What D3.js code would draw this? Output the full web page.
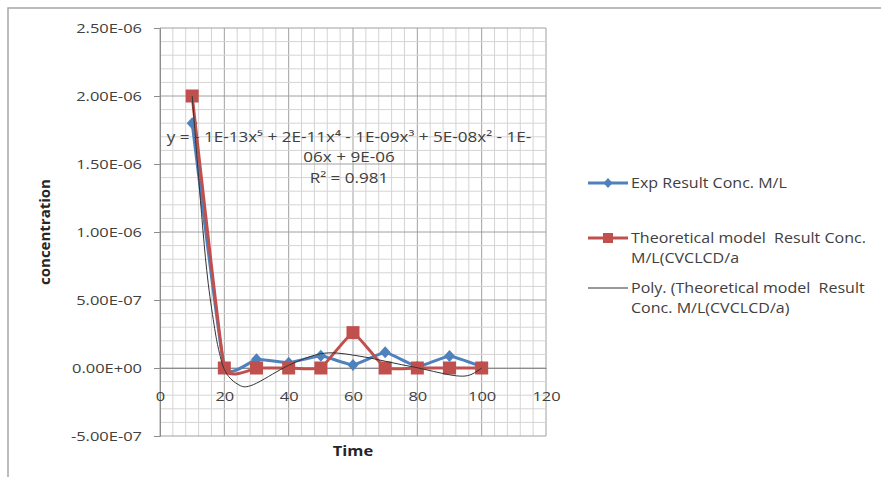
<!DOCTYPE html>
<html>
<head>
<meta charset="utf-8">
<script src="https://cdn.jsdelivr.net/npm/d3@7"></script>
<style>
  body { margin: 0; background: #fff; }
  text { font-family: "Open Sans", "Noto Sans", sans-serif; }
</style>
</head>
<body>
<div id="chart"></div>
<script>
// time values
const times = [10, 20, 30, 40, 50, 60, 70, 80, 90, 100];
// Exp Result Conc. M/L
const expConc = [1.8e-6, 0, 6.4e-8, 3.9e-8, 9.0e-8, 2.2e-8, 1.15e-7, 1.0e-8, 8.8e-8, 1.0e-8];
// Theoretical model Result Conc. M/L(CVCLCD/a
const theoConc = [2.0e-6, 0, 0, 0, 0, 2.6e-7, 0, 0, 0, 0];
// poly trendline
const polyX = [10, 12, 13.4, 15, 17, 18, 19, 20, 22, 25, 27, 30, 35, 40, 45, 50, 55, 60, 65, 70, 75, 80, 85, 90, 94, 97, 100];
const polyY = [2.0e-6, 1.4e-6, 1.0e-6, 6.2e-7, 2.9e-7, 1.6e-7, 6e-8, -1e-8, -8e-8, -1.3e-7, -1.37e-7, -1.12e-7, -4.5e-8, 2e-8, 7e-8, 1.05e-7, 1.1e-7, 9.5e-8, 7.5e-8, 5e-8, 2.5e-8, 2e-9, -2.5e-8, -5e-8, -6e-8, -4.5e-8, 0];

const yTicks = [-5e-7, 0, 5e-7, 1e-6, 1.5e-6, 2e-6, 2.5e-6];
const yTickLabels = ["-5.00E-07", "0.00E+00", "5.00E-07", "1.00E-06", "1.50E-06", "2.00E-06", "2.50E-06"];
const xTicks = [0, 20, 40, 60, 80, 100, 120];

const width = 881, height = 477;
const sx = 1.22; // the original picture is stretched sideways

const svg = d3.select("#chart").append("svg")
  .attr("width", width)
  .attr("height", height);

// chart border (cropped)
svg.append("path")
  .attr("d", `M8,${height} L8,8 L${width},8`)
  .attr("fill", "none")
  .attr("stroke", "#a6a6a6")
  .attr("stroke-width", 1.5);

const x = d3.scaleLinear().domain([0, 120]).range([160, 546]);
const y = d3.scaleLinear().domain([-5e-7, 2.5e-6]).range([436, 28]);

// grid
svg.append("g")
  .selectAll("line")
  .data(d3.range(0, 121, 4))
  .enter().append("line")
  .attr("x1", d => x(d)).attr("x2", d => x(d))
  .attr("y1", y(2.5e-6)).attr("y2", y(-5e-7))
  .attr("stroke", d => d % 20 === 0 ? "#a0a0a0" : "#d4d4d4")
  .attr("stroke-width", 1);

svg.append("g")
  .selectAll("line")
  .data(d3.range(-5, 26, 1))
  .enter().append("line")
  .attr("x1", x(0)).attr("x2", x(120))
  .attr("y1", d => y(d * 1e-7)).attr("y2", d => y(d * 1e-7))
  .attr("stroke", d => d % 5 === 0 ? "#a0a0a0" : "#d4d4d4")
  .attr("stroke-width", 1);

// y axis
const yAxis = svg.append("g")
  .attr("transform", `translate(${x(0)},0)`)
  .call(d3.axisLeft(y).tickValues(yTicks).tickSize(6).tickPadding(0)
    .tickFormat((d, i) => yTickLabels[i]));
yAxis.select(".domain").attr("stroke", "#8c8c8c");
yAxis.selectAll(".tick line").attr("stroke", "#8c8c8c");
yAxis.selectAll("text")
  .attr("x", 0)
  .attr("transform", `translate(-18,0) scale(${sx},1)`)
  .attr("font-size", 13.5).attr("fill", "#404040")
  .attr("font-family", "'Open Sans', sans-serif");

// x axis labels sit below the zero line
const xAxis = svg.append("g")
  .attr("transform", `translate(0,${y(0)})`)
  .call(d3.axisBottom(x).tickValues(xTicks).tickSize(0).tickPadding(23));
xAxis.select(".domain").attr("stroke", "#8c8c8c");
xAxis.selectAll("text")
  .attr("transform", `scale(${sx},1)`)
  .attr("font-size", 13.5).attr("fill", "#404040")
  .attr("font-family", "'Open Sans', sans-serif");

// axis titles
svg.append("text")
  .attr("transform", "translate(50,232) rotate(-90)")
  .attr("font-size", 15)
  .attr("font-weight", "bold")
  .attr("fill", "#262626")
  .style("text-anchor", "middle")
  .text("concentration");

svg.append("text")
  .attr("transform", `translate(353,456) scale(${sx},1)`)
  .attr("font-size", 13.5)
  .attr("font-weight", "bold")
  .attr("fill", "#262626")
  .style("text-anchor", "middle")
  .text("Time");

const smooth = d3.line()
  .x(d => x(d[0]))
  .y(d => y(d[1]))
  .curve(d3.curveCardinal.tension(0.7));

const expData = times.map((t, i) => [t, expConc[i]]);
const theoData = times.map((t, i) => [t, theoConc[i]]);
const polyData = polyX.map((t, i) => [t, polyY[i]]);

// exp series
svg.append("path")
  .datum(expData)
  .attr("d", smooth)
  .attr("fill", "none")
  .attr("stroke", "#4f81bd")
  .attr("stroke-width", 3);

svg.selectAll("path.diamond")
  .data(expData)
  .enter().append("path")
  .attr("class", "diamond")
  .attr("transform", d => `translate(${x(d[0])},${y(d[1])})`)
  .attr("d", "M0,-6 L5.5,0 L0,6 L-5.5,0 Z")
  .attr("fill", "#4f81bd");

// theoretical series
svg.append("path")
  .datum(theoData)
  .attr("d", smooth)
  .attr("fill", "none")
  .attr("stroke", "#c0504d")
  .attr("stroke-width", 3);

svg.selectAll("rect.sq")
  .data(theoData)
  .enter().append("rect")
  .attr("class", "sq")
  .attr("x", d => x(d[0]) - 6.5)
  .attr("y", d => y(d[1]) - 6.5)
  .attr("width", 13)
  .attr("height", 13)
  .attr("fill", "#c0504d");

// poly trendline
svg.append("path")
  .datum(polyData)
  .attr("d", d3.line().x(d => x(d[0])).y(d => y(d[1])).curve(d3.curveNatural))
  .attr("fill", "none")
  .attr("stroke", "#333333")
  .attr("stroke-width", 1);

// trendline equation
const eqLines = [
  ["y = - 1E-13x⁵ + 2E-11x⁴ - 1E-09x³ + 5E-08x² - 1E-", 142],
  ["06x + 9E-06", 162],
  ["R² = 0.981", 183]
];
svg.append("g").selectAll("text")
  .data(eqLines)
  .enter().append("text")
  .attr("transform", d => `translate(349,${d[1]}) scale(${sx},1)`)
  .attr("font-size", 14)
  .attr("fill", "#404040")
  .style("text-anchor", "middle")
  .text(d => d[0]);

// legend
const legend = svg.append("g");
const lx1 = 588, lx2 = 628, tx = 631;

legend.append("line").attr("x1", lx1).attr("x2", lx2).attr("y1", 183).attr("y2", 183)
  .attr("stroke", "#4f81bd").attr("stroke-width", 3);
legend.append("path").attr("transform", `translate(${(lx1 + lx2) / 2},183)`)
  .attr("d", "M0,-5 L4.5,0 L0,5 L-4.5,0 Z").attr("fill", "#4f81bd");

legend.append("line").attr("x1", lx1).attr("x2", lx2).attr("y1", 238).attr("y2", 238)
  .attr("stroke", "#c0504d").attr("stroke-width", 3);
legend.append("rect").attr("x", (lx1 + lx2) / 2 - 5).attr("y", 233)
  .attr("width", 10).attr("height", 10).attr("fill", "#c0504d");

legend.append("line").attr("x1", lx1).attr("x2", lx2).attr("y1", 288).attr("y2", 288)
  .attr("stroke", "#333333").attr("stroke-width", 1);

const legendLines = [
  ["Exp Result Conc. M/L", 188],
  ["Theoretical model  Result Conc.", 243],
  ["M/L(CVCLCD/a", 263],
  ["Poly. (Theoretical model  Result", 293],
  ["Conc. M/L(CVCLCD/a)", 313]
];
legend.selectAll("text")
  .data(legendLines)
  .enter().append("text")
  .attr("transform", d => `translate(${tx},${d[1]}) scale(1.18,1)`)
  .attr("font-size", 13.6)
  .attr("fill", "#404040")
  .style("white-space", "pre")
  .text(d => d[0]);
</script>
</body>
</html>
